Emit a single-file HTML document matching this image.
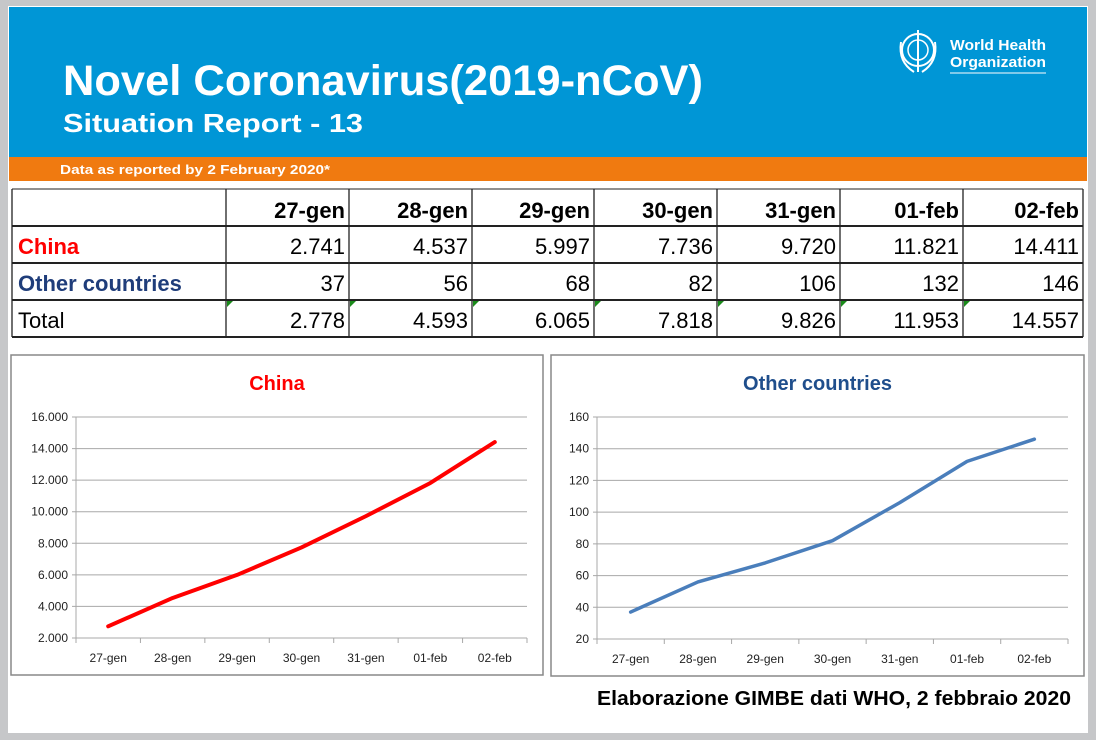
<!DOCTYPE html>
<html><head><meta charset="utf-8"><style>
html,body{margin:0;padding:0;background:#c8c9cb;}
svg{display:block;font-family:"Liberation Sans",sans-serif;}
</style></head><body>
<svg id="root" width="1096" height="740" viewBox="0 0 1096 740">
<rect x="0" y="0" width="1096" height="740" fill="#c6c7c9"/>
<rect x="8" y="6" width="1080" height="727" fill="#fff"/>
<rect x="9" y="7" width="1078" height="150" fill="#0096d6"/>
<text x="63" y="95" fill="#fff" font-size="43" font-weight="bold" textLength="640" lengthAdjust="spacingAndGlyphs">Novel Coronavirus(2019-nCoV)</text>
<text x="63" y="132" fill="#fff" font-size="26" font-weight="bold" textLength="300" lengthAdjust="spacingAndGlyphs">Situation Report - 13</text>
<g>
<circle cx="918" cy="50" r="16" fill="none" stroke="#fff" stroke-width="2"/>
<circle cx="918" cy="50" r="10" fill="none" stroke="#fff" stroke-width="1.5"/>
<line x1="918" y1="30" x2="918" y2="72" stroke="#fff" stroke-width="2"/>
<path d="M901 42 Q898 62 914 72 M935 42 Q938 62 922 72" fill="none" stroke="#fff" stroke-width="2"/>
<text x="950" y="50" fill="#fff" font-size="15" font-weight="bold" textLength="96" lengthAdjust="spacingAndGlyphs">World Health</text>
<text x="950" y="67" fill="#fff" font-size="15" font-weight="bold" textLength="96" lengthAdjust="spacingAndGlyphs">Organization</text>
<line x1="950" y1="73" x2="1046" y2="73" stroke="#fff" stroke-width="1"/>
</g>
<rect x="9" y="157" width="1078" height="24" fill="#f07a10"/>
<text x="60" y="174" fill="#fff" font-size="13" font-weight="bold" textLength="270" lengthAdjust="spacingAndGlyphs">Data as reported by 2 February 2020*</text>
<g id="table"></g>
<g id="chartL"></g>
<g id="chartR"></g>
<text x="1071" y="705" text-anchor="end" fill="#000" font-size="20" font-weight="bold" textLength="474" lengthAdjust="spacingAndGlyphs">Elaborazione  GIMBE dati WHO, 2 febbraio 2020</text>
</svg>
<script>
const categories = ["27-gen","28-gen","29-gen","30-gen","31-gen","01-feb","02-feb"];
const chinaValues = [2741,4537,5997,7736,9720,11821,14411];
const otherValues = [37,56,68,82,106,132,146];
const totalValues = [2778,4593,6065,7818,9826,11953,14557];
const chinaTicks = [2000,4000,6000,8000,10000,12000,14000,16000];
const otherTicks = [20,40,60,80,100,120,140,160];
const NS = "http://www.w3.org/2000/svg";
function mk(parent, tag, attrs, text){
  const e = document.createElementNS(NS, tag);
  for (const k in attrs) e.setAttribute(k, attrs[k]);
  if (text !== undefined) e.textContent = text;
  parent.appendChild(e);
  return e;
}
function fmt(v){ return v.toString().replace(/\B(?=(\d{3})+(?!\d))/g, "."); }

const tbl = document.getElementById('table');
const colX = [12,226,349,472,594,717,840,963,1083];
const rowY = [189,226,263,300,337];
for (let i = 0; i < colX.length; i++) {
  const l = mk(tbl,'line',{x1:colX[i],y1:rowY[0],x2:colX[i],y2:rowY[4],stroke:'#222','stroke-width':1.3});
  
  
}
for (let j = 0; j < rowY.length; j++) {
  const l = mk(tbl,'line',{x1:colX[0],y1:rowY[j],x2:colX[8],y2:rowY[j],stroke:'#222','stroke-width':j===0?1:2});
  
  
}
categories.forEach((c,i)=>{
  const t = mk(tbl,'text',{x:colX[i+2]-4,y:218,'text-anchor':'end','font-size':22,'font-weight':'bold',fill:'#000'},c);
  
  
});
const rows = [["China",chinaValues,"#ff0000"],["Other countries",otherValues,"#1f3d7a"],["Total",totalValues,"#000"]];
rows.forEach((r,j)=>{
  const y = rowY[j+1]+28;
  const lab = mk(tbl,'text',{x:18,y:y,'font-size':22,'font-weight':j<2?'bold':'normal',fill:r[2]},r[0]);
  
  
  r[1].forEach((v,i)=>{
    const t = mk(tbl,'text',{x:colX[i+2]-4,y:y,'text-anchor':'end','font-size':22,fill:'#000'},fmt(v));
    
    
    if (j===2){
      const tri = mk(tbl,'path',{d:`M${colX[i+1]+1} ${rowY[3]+1} h6 l-6 6z`,fill:'#1a8a1a'});
      
      
    }
  });
});

function drawChart(g, box, plot, title, titleColor, ticks, vals, color, lw){
  const frame = mk(g,'rect',{x:box[0],y:box[1],width:box[2]-box[0],height:box[3]-box[1],fill:'#fff',stroke:'#888','stroke-width':1.5});
  
  
  const tt = mk(g,'text',{x:(box[0]+box[2])/2,y:box[1]+35,'text-anchor':'middle','font-size':20,'font-weight':'bold',fill:titleColor},title);
  
  
  const [x0,y0,x1,y1] = plot;
  const vmin = ticks[0], vmax = ticks[ticks.length-1];
  const yS = v => y1 - (v-vmin)/(vmax-vmin)*(y1-y0);
  const bw = (x1-x0)/categories.length;
  const xS = i => x0 + bw*(i+0.5);
  ticks.forEach(t=>{
    const gl = mk(g,'line',{x1:x0-4,y1:yS(t),x2:x1,y2:yS(t),stroke:'#a8a8a8','stroke-width':1});
    
    
    const tl = mk(g,'text',{x:x0-8,y:yS(t)+4,'text-anchor':'end','font-size':12,fill:'#222'},fmt(t));
    
    
  });
  const ya = mk(g,'line',{x1:x0,y1:y0,x2:x0,y2:y1,stroke:'#a8a8a8','stroke-width':1});
  
  
  for (let i=0;i<=categories.length;i++){
    const tk = mk(g,'line',{x1:x0+bw*i,y1:y1,x2:x0+bw*i,y2:y1+5,stroke:'#a8a8a8','stroke-width':1});
    
    
  }
  categories.forEach((c,i)=>{
    const xl = mk(g,'text',{x:xS(i),y:y1+24,'text-anchor':'middle','font-size':12,fill:'#222'},c);
    
    
  });
  const d = vals.map((v,i)=>(i?'L':'M')+xS(i)+' '+yS(v)).join(' ');
  const ln = mk(g,'path',{d:d,fill:'none',stroke:color,'stroke-width':lw,'stroke-linejoin':'round','stroke-linecap':'round'});
  
  
}
drawChart(document.getElementById('chartL'),[11,355,543,675],[76,417,527,638],'China','#ff0000',chinaTicks,chinaValues,'#ff0000',4);
drawChart(document.getElementById('chartR'),[551,355,1084,676],[597,417,1068,639],'Other countries','#1f4e8c',otherTicks,otherValues,'#4a7ebb',3.5);
</script>
</body></html>
